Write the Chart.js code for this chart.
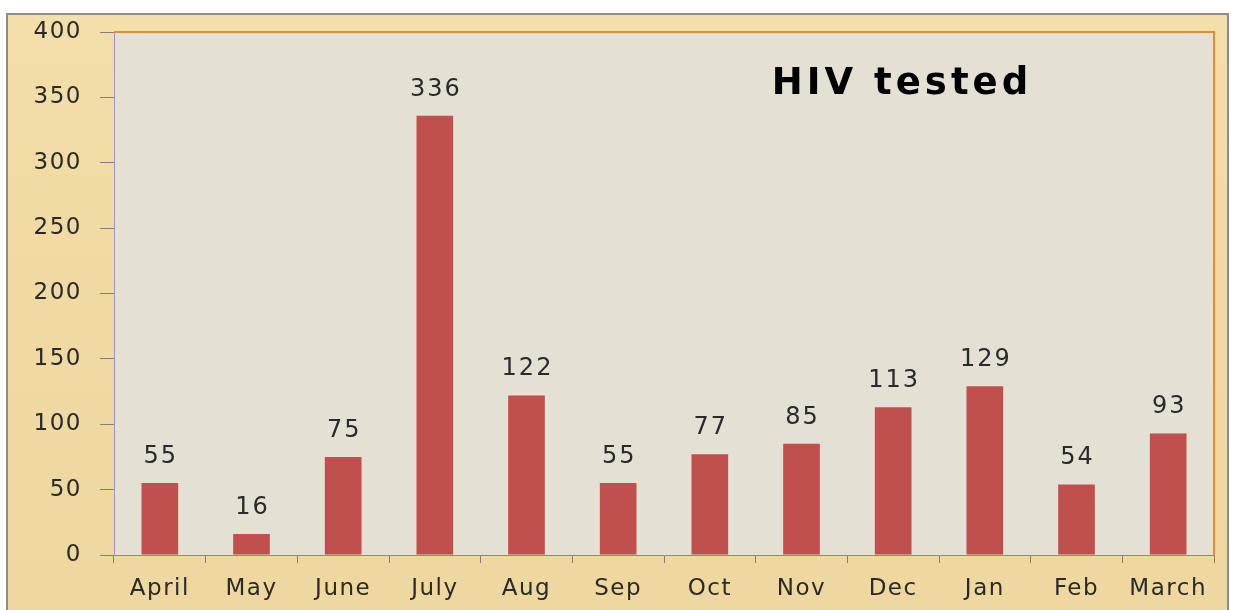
<!DOCTYPE html>
<html>
<head>
<meta charset="utf-8">
<script src="https://cdn.jsdelivr.net/npm/chart.js@4"></script>
<style>
  html, body { margin: 0; padding: 0; background: #fff; }
  #wrap { width: 1235px; height: 610px; }
</style>
</head>
<body>
<div id="wrap"><canvas id="hivChart" width="1235" height="610"></canvas></div>
<script>
const months = ['April', 'May', 'June', 'July', 'Aug', 'Sep', 'Oct', 'Nov', 'Dec', 'Jan', 'Feb', 'March'];
const hivTested = [55, 16, 75, 336, 122, 55, 77, 85, 113, 129, 54, 93];
const yTicks = [0, 50, 100, 150, 200, 250, 300, 350, 400];

const FONT = '"DejaVu Sans", "Open Sans", sans-serif';

// parchment background, plot area and its border
const backdrop = {
    id: 'backdrop',
    beforeDraw(chart) {
        const ctx = chart.ctx;
        const a = chart.chartArea;
        ctx.save();
        const g = ctx.createLinearGradient(0, 14, 0, 610);
        g.addColorStop(0, '#f3dfaa');
        g.addColorStop(0.5, '#f0d9a2');
        g.addColorStop(1, '#efd7a0');
        ctx.fillStyle = g;
        ctx.fillRect(7, 14, 1221, 600);
        ctx.strokeStyle = '#8c8c8c';
        ctx.lineWidth = 2;
        ctx.strokeRect(7, 14, 1221, 600);
        ctx.fillStyle = '#e4e1d4';
        ctx.fillRect(a.left, a.top, a.right - a.left, a.bottom - a.top);
        ctx.restore();
        // wider spacing for the axis texts, closer to the stretched original
        ctx.letterSpacing = '1.5px';
    },
    afterDatasetsDraw(chart) {
        const ctx = chart.ctx;
        const a = chart.chartArea;
        ctx.save();
        ctx.strokeStyle = '#e58a3a';
        ctx.lineWidth = 2;
        ctx.beginPath();
        ctx.moveTo(a.left, a.top);
        ctx.lineTo(a.right, a.top);
        ctx.lineTo(a.right, a.bottom);
        ctx.stroke();
        // value labels
        const meta = chart.getDatasetMeta(0);
        ctx.fillStyle = '#2a2a2a';
        ctx.font = '24px ' + FONT;
        ctx.letterSpacing = '2px';
        ctx.textAlign = 'center';
        ctx.textBaseline = 'alphabetic';
        meta.data.forEach((bar, i) => {
            ctx.fillText(String(hivTested[i]), bar.x + 1, bar.y - 20);
        });
        // title inside plot
        ctx.fillStyle = '#000';
        ctx.font = 'bold 37px ' + FONT;
        ctx.letterSpacing = '4px';
        ctx.fillText('HIV tested', 902, 94);
        ctx.restore();
    }
};

const ctx = document.getElementById('hivChart').getContext('2d');
const hivChart = new Chart(ctx, {
    type: 'bar',
    data: {
        labels: months,
        datasets: [{
            label: 'HIV tested',
            data: hivTested,
            backgroundColor: '#c0504d',
            borderWidth: 0,
            barPercentage: 0.4,
            categoryPercentage: 1.0
        }]
    },
    options: {
        responsive: false,
        animation: false,
        maintainAspectRatio: false,
        layout: { padding: { left: 7, top: 32, right: 21, bottom: 0 } },
        plugins: {
            legend: { display: false },
            tooltip: { enabled: false }
        },
        scales: {
            x: {
                grid: {
                    offset: true,
                    drawOnChartArea: false,
                    drawTicks: true,
                    tickLength: 8,
                    color: '#7f7f7f'
                },
                border: { color: '#8a8a8a', width: 1 },
                ticks: {
                    color: '#2a2a2a',
                    font: { family: FONT, size: 23 },
                    padding: 12,
                    maxRotation: 0
                },
                afterFit(scale) { scale.height = 55; }
            },
            y: {
                min: 0,
                max: 400,
                afterBuildTicks(scale) { scale.ticks = yTicks.map(v => ({ value: v })); },
                grid: {
                    drawOnChartArea: false,
                    drawTicks: true,
                    tickLength: 14,
                    color: '#7f7f7f'
                },
                border: { color: '#9a98b8', width: 1 },
                ticks: {
                    color: '#2a2a2a',
                    font: { family: FONT, size: 23 },
                    padding: 18
                },
                afterFit(scale) { scale.width = 107; }
            }
        }
    },
    plugins: [backdrop]
});
</script>
</body>
</html>
